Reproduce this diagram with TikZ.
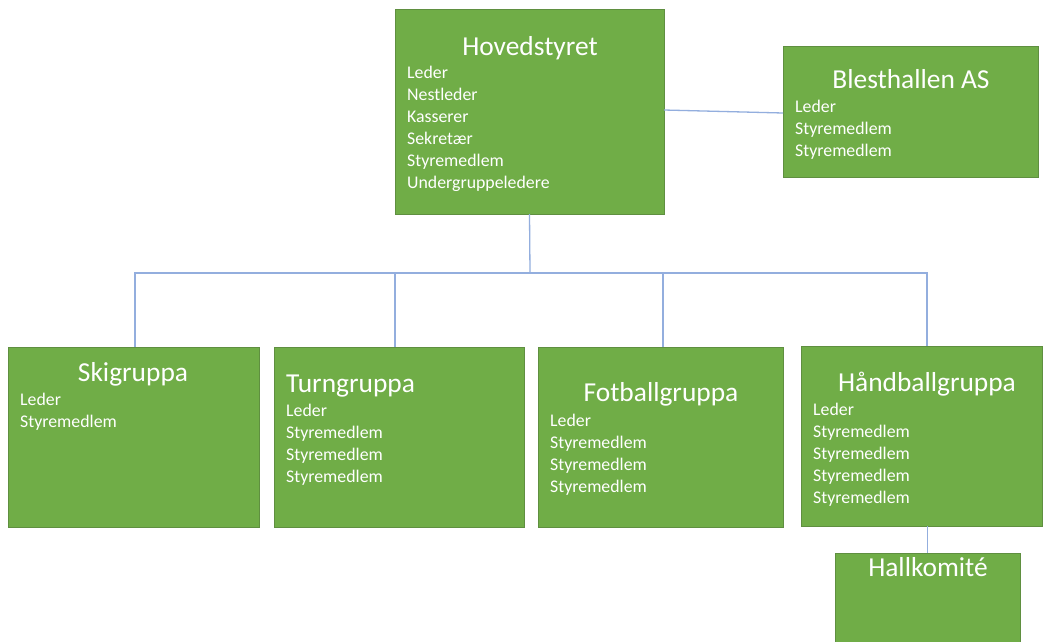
\documentclass[tikz,border=0pt]{standalone}
\usepackage{fontspec}
\setmainfont{Carlito}
\definecolor{boxgreen}{HTML}{70AD47}
\definecolor{boxedge}{HTML}{5F8F40}
\definecolor{linkblue}{HTML}{93AEDE}
\begin{document}
\begin{tikzpicture}[x=1pt,y=-1pt,
 box/.style={draw=boxedge, line width=0.7pt, fill=boxgreen, inner sep=0pt, outer sep=0pt, anchor=north west},
 ttl/.style={anchor=base, text=white, font=\fontsize{27.4}{33}\selectfont, inner sep=0pt},
 ttlw/.style={anchor=base west, text=white, font=\fontsize{27.4}{33}\selectfont, inner sep=0pt},
 itm/.style={anchor=base west, text=white, font=\fontsize{17.8}{22}\selectfont, inner sep=0pt},
 link/.style={draw=linkblue, line width=1.3pt}]
\useasboundingbox (0,0) rectangle (1043,641);
\fill[white] (0,0) rectangle (1043,641);
\clip (0,0) rectangle (1043,641);

% boxes
\node[box, minimum width=269pt, minimum height=205pt] (hov) at (395,9) {};
\node[box, minimum width=255pt, minimum height=131pt] (bles) at (783,46) {};
\node[box, minimum width=251pt, minimum height=180pt] (ski) at (8,347) {};
\node[box, minimum width=250pt, minimum height=180pt] (turn) at (274,347) {};
\node[box, minimum width=245pt, minimum height=180pt] (fot) at (538,347) {};
\node[box, minimum width=241pt, minimum height=180pt] (hand) at (801,346) {};
\node[box, minimum width=185pt, minimum height=100pt] (hall) at (835,553) {};

% Hovedstyret
\node[ttl] (hovT) at (530,55) {Hovedstyret};
\node[itm] (hov1) at (407,78) {Leder};
\node[itm] (hov2) at (407,100) {Nestleder};
\node[itm] (hov3) at (407,122) {Kasserer};
\node[itm] (hov4) at (407,144) {Sekretær};
\node[itm] (hov5) at (407,166) {Styremedlem};
\node[itm] (hov6) at (407,188) {Undergruppeledere};

% Blesthallen AS
\node[ttl] (blesT) at (911,88) {Blesthallen AS};
\node[itm] (bles1) at (795,112) {Leder};
\node[itm] (bles2) at (795,134) {Styremedlem};
\node[itm] (bles3) at (795,156) {Styremedlem};

% Skigruppa
\node[ttl] (skiT) at (133,381) {Skigruppa};
\node[itm] (ski1) at (20,405) {Leder};
\node[itm] (ski2) at (20,427) {Styremedlem};

% Turngruppa
\node[ttlw] (turnT) at (286,392) {Turngruppa};
\node[itm] (turn1) at (286,416) {Leder};
\node[itm] (turn2) at (286,438) {Styremedlem};
\node[itm] (turn3) at (286,460) {Styremedlem};
\node[itm] (turn4) at (286,482) {Styremedlem};

% Fotballgruppa
\node[ttl] (fotT) at (661,401) {Fotballgruppa};
\node[itm] (fot1) at (550,426) {Leder};
\node[itm] (fot2) at (550,448) {Styremedlem};
\node[itm] (fot3) at (550,470) {Styremedlem};
\node[itm] (fot4) at (550,492) {Styremedlem};

% Håndballgruppa
\node[ttl] (handT) at (927,391) {Håndballgruppa};
\node[itm] (hand1) at (813,415) {Leder};
\node[itm] (hand2) at (813,437) {Styremedlem};
\node[itm] (hand3) at (813,459) {Styremedlem};
\node[itm] (hand4) at (813,481) {Styremedlem};
\node[itm] (hand5) at (813,503) {Styremedlem};

% Hallkomité
\node[ttl] (hallT) at (928,576) {Hallkomité};

% connectors
\coordinate (hub) at (530,273);
\coordinate (busL) at (135,273);
\coordinate (busT) at (395,273);
\coordinate (busF) at (663,273);
\coordinate (busR) at (927,273);
\draw[link] ([yshift=1.5pt]hov.east) -- ([yshift=-1.5pt]bles.west);
\draw[link] (hov.south) -- (hub);
\draw[link, line cap=rect] (busL) -- (busR);
\draw[link] (busL) -- (busL |- ski.north);
\draw[link] (busT) -- (busT |- turn.north);
\draw[link] (busF) -- (busF |- fot.north);
\draw[link] (busR) -- (busR |- hand.north);
\draw[link] (hall.north |- hand.south) -- (hall.north);
\end{tikzpicture}
\end{document}
